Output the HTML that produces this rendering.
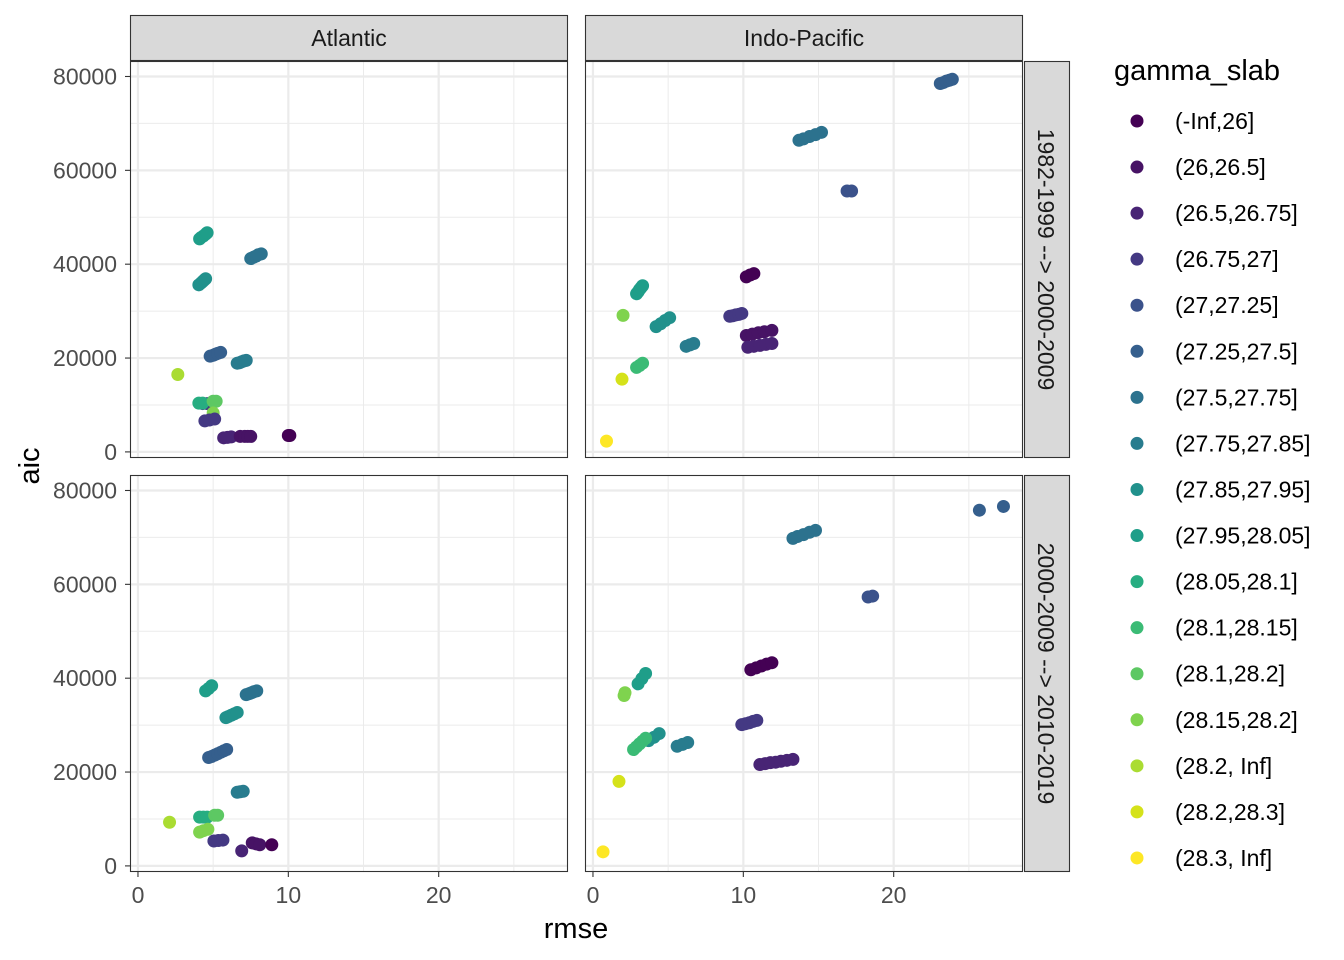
<!DOCTYPE html>
<html><head><meta charset="utf-8"><style>
html,body{margin:0;padding:0;background:#fff;}
svg{display:block;font-family:"Liberation Sans",sans-serif;}
</style></head><body>
<svg id="chart" width="1344" height="960" viewBox="0 0 1344 960"></svg>
<script>
const levels = ["(-Inf,26]","(26,26.5]","(26.5,26.75]","(26.75,27]","(27,27.25]","(27.25,27.5]","(27.5,27.75]","(27.75,27.85]","(27.85,27.95]","(27.95,28.05]","(28.05,28.1]","(28.1,28.15]","(28.1,28.2]","(28.15,28.2]","(28.2, Inf]","(28.2,28.3]","(28.3, Inf]"];
const colors = ["#440154","#471365","#482475","#443983","#3B528B","#355F8D","#2C728E","#287C8E","#21918C","#1F9E89","#27AD81","#3BBB75","#5DC863","#7FD34E","#AADC32","#D5E21A","#FDE725"];
const colTitles = ["Atlantic","Indo-Pacific"];
const rowTitles = ["1982-1999 --> 2000-2009","2000-2009 --> 2010-2019"];
const xTicks = [0,10,20];
const yTicks = [0,20000,40000,60000,80000];

// Atlantic, 1982-1999 --> 2000-2009
const tlRmse = [4.1,4.2,4.35,4.5,4.6, 7.5,7.7,7.85,8.0,8.2, 4.05,4.2,4.3,4.4,4.5, 4.8,5.0,5.15,5.3,5.5, 6.6,6.75,6.9,7.05,7.2, 2.65, 4.3,4.6, 4.05,4.3, 5.0,5.2, 5.0, 4.45,4.75,5.1, 5.7,5.95,6.2, 6.8,7.1,7.3,7.5, 10.0,10.1];
const tlAic  = [45400,45700,46000,46400,46700, 41200,41500,41700,42000,42200, 35600,36000,36300,36600,36900, 20400,20600,20800,21000,21200, 18900,19000,19200,19400,19500, 16500, 10300,10300, 10400,10400, 10800,10800, 8300, 6600,6800,7000, 3000,3100,3200, 3300,3300,3300,3300, 3500,3500];
const tlLvl  = [9,9,9,9,9, 6,6,6,6,6, 8,8,8,8,8, 5,5,5,5,5, 7,7,7,7,7, 14, 3,3, 10,10, 12,12, 13, 3,3,3, 2,2,2, 1,1,1,1, 0,0];
// Indo-Pacific, 1982-1999 --> 2000-2009
const trRmse = [23.1,23.3,23.5,23.7,23.9, 13.7,14.0,14.4,14.8,15.2, 16.9,17.2, 10.2,10.45,10.7, 2.9,3.0,3.1,3.2,3.3, 2.0, 4.2,4.5,4.8,5.1, 9.1,9.3,9.5,9.7,9.9, 10.2,10.6,11.0,11.4,11.9, 10.3,10.7,11.1,11.5,11.9, 6.2,6.45,6.7, 2.9,3.1,3.3, 1.93, 0.9];
const trAic  = [78500,78700,79000,79200,79400, 66400,66700,67200,67600,68100, 55600,55600, 37300,37700,38000, 33700,34100,34600,35000,35400, 29100, 26700,27300,28000,28600, 28900,29000,29200,29300,29500, 24800,25100,25400,25600,25900, 22300,22500,22700,22900,23100, 22500,22800,23100, 18000,18400,18900, 15500, 2300];
const trLvl  = [5,5,5,5,5, 6,6,6,6,6, 4,4, 0,0,0, 9,9,9,9,9, 13, 8,8,8,8, 3,3,3,3,3, 1,1,1,1,1, 2,2,2,2,2, 7,7,7, 11,11,11, 15, 16];
// Atlantic, 2000-2009 --> 2010-2019
const blRmse = [4.5,4.7,4.9, 7.2,7.4,7.55,7.7,7.9, 5.85,6.0,6.2,6.4,6.6, 4.7,4.9,5.1,5.3,5.5,5.7,5.9, 6.6,6.8,7.0, 2.1, 4.1,4.35,4.6, 5.1,5.3, 4.1,4.35,4.65, 5.05,5.35,5.65, 6.9, 7.6,7.85,8.1, 8.9];
const blAic  = [37300,37800,38400, 36500,36700,36900,37100,37300, 31600,31800,32100,32400,32700, 23100,23300,23600,23900,24200,24500,24800, 15700,15800,15900, 9300, 10400,10400,10400, 10800,10800, 7200,7500,7800, 5300,5400,5500, 3200, 4900,4700,4500, 4500];
const blLvl  = [9,9,9, 6,6,6,6,6, 8,8,8,8,8, 5,5,5,5,5,5,5, 7,7,7, 14, 10,10,10, 12,12, 13,13,13, 3,3,3, 2, 1,1,1, 0];
// Indo-Pacific, 2000-2009 --> 2010-2019
const brRmse = [25.7, 27.3, 13.3,13.6,14.0,14.4,14.8, 18.3,18.6, 10.5,10.85,11.2,11.55,11.9, 3.0,3.25,3.5, 2.07,2.13, 9.9,10.15,10.4,10.65,10.9, 3.7,4.05,4.4, 2.7,2.9,3.1,3.3,3.5, 5.6,5.95,6.3, 11.1,11.45,11.8,12.15,12.5,12.9,13.3, 1.73, 0.67];
const brAic  = [75800, 76600, 69800,70200,70600,71100,71500, 57300,57500, 41800,42200,42600,43000,43300, 38800,39900,41000, 36300,36900, 30100,30300,30500,30800,31000, 26700,27400,28200, 24800,25400,26000,26600,27200, 25500,25900,26300, 21600,21800,22000,22100,22300,22500,22700, 18000, 3000];
const brLvl  = [5, 5, 6,6,6,6,6, 4,4, 0,0,0,0,0, 9,9,9, 13,13, 3,3,3,3,3, 8,8,8, 11,11,11,11,11, 7,7,7, 2,2,2,2,2,2,2, 15, 16];

const NS="http://www.w3.org/2000/svg";
const svg=document.getElementById('chart');
function mk(tag,attrs,parent){const e=document.createElementNS(NS,tag);for(const k in attrs)e.setAttribute(k,attrs[k]);(parent||svg).appendChild(e);return e;}

const colX=[130,585], panW=438;
const rowY=[61,475], panH=397;
const xMin=-0.53, xMax=28.6, yMin=-1300, yMax=83300;
function sx(c,v){return colX[c]+(v-xMin)/(xMax-xMin)*panW;}
function sy(r,v){return rowY[r]+panH-(v-yMin)/(yMax-yMin)*panH;}

const panels=[[0,0,tlRmse,tlAic,tlLvl,"panel-atlantic-early"],[1,0,trRmse,trAic,trLvl,"panel-indopacific-early"],[0,1,blRmse,blAic,blLvl,"panel-atlantic-late"],[1,1,brRmse,brAic,brLvl,"panel-indopacific-late"]];
panels.forEach(p=>{
  const [c,r,xs,ys,ls,name]=p;
  const g=mk('g',{});
  
  
  mk('rect',{x:colX[c],y:rowY[r],width:panW,height:panH,fill:'#fff'},g);
  for(let v=5;v<30;v+=10){const x=sx(c,v);mk('line',{x1:x,x2:x,y1:rowY[r],y2:rowY[r]+panH,stroke:'#EBEBEB','stroke-width':1},g);}
  for(let v=10000;v<83000;v+=20000){const y=sy(r,v);mk('line',{x1:colX[c],x2:colX[c]+panW,y1:y,y2:y,stroke:'#EBEBEB','stroke-width':1},g);}
  xTicks.forEach(v=>{const x=sx(c,v);mk('line',{x1:x,x2:x,y1:rowY[r],y2:rowY[r]+panH,stroke:'#EBEBEB','stroke-width':2.2},g);});
  yTicks.forEach(v=>{const y=sy(r,v);mk('line',{x1:colX[c],x2:colX[c]+panW,y1:y,y2:y,stroke:'#EBEBEB','stroke-width':2.2},g);});
  for(let i=0;i<xs.length;i++){
    const pt=mk('circle',{cx:sx(c,xs[i]),cy:sy(r,ys[i]),r:6.5,fill:colors[ls[i]]},g);
    
    
  }
  mk('rect',{x:colX[c]+0.5,y:rowY[r]+0.5,width:panW-1,height:panH-1,fill:'none',stroke:'#333','stroke-width':1.1},g);
});
colTitles.forEach((t,c)=>{
  const g=mk('g',{});
  
  
  mk('rect',{x:colX[c]+0.5,y:15.5,width:panW-1,height:45,fill:'#D9D9D9',stroke:'#333','stroke-width':1.1},g);
  const tx=mk('text',{x:colX[c]+panW/2,y:46,'text-anchor':'middle','font-size':23,fill:'#1A1A1A'},g);tx.textContent=t;
});
rowTitles.forEach((t,r)=>{
  const g=mk('g',{});
  
  
  mk('rect',{x:1024.5,y:rowY[r]+0.5,width:45,height:panH-1,fill:'#D9D9D9',stroke:'#333','stroke-width':1.1},g);
  const cy=rowY[r]+panH/2;
  const tx=mk('text',{x:1046,y:cy,'text-anchor':'middle','font-size':23,fill:'#1A1A1A','dominant-baseline':'central',transform:`rotate(90 1046 ${cy})`},g);tx.textContent=t;
});
[0,1].forEach(r=>{
  yTicks.forEach(v=>{const y=sy(r,v);
    mk('line',{x1:125,x2:130,y1:y,y2:y,stroke:'#333','stroke-width':1.1});
    const t=mk('text',{x:117,y:y+8,'text-anchor':'end','font-size':23,fill:'#4D4D4D'});t.textContent=String(v);
    
    
  });
});
[0,1].forEach(c=>{
  xTicks.forEach(v=>{const x=sx(c,v);
    mk('line',{x1:x,x2:x,y1:872,y2:877,stroke:'#333','stroke-width':1.1});
    const t=mk('text',{x:x,y:903,'text-anchor':'middle','font-size':23,fill:'#4D4D4D'});t.textContent=String(v);
    
    
  });
});
const xt=mk('text',{x:576,y:938,'text-anchor':'middle','font-size':29,fill:'#000'});xt.textContent='rmse';


const yt=mk('text',{x:39,y:466,'text-anchor':'middle','font-size':29,fill:'#000',transform:'rotate(-90 39 466)'});yt.textContent='aic';


const lg=mk('g',{});


const lt=mk('text',{x:1114,y:80,'font-size':29,fill:'#000'},lg);lt.textContent='gamma_slab';
levels.forEach((l,i)=>{
  const y=121+i*46.06;
  const e=mk('g',{},lg);
  
  
  mk('circle',{cx:1137,cy:y,r:6.5,fill:colors[i]},e);
  const t=mk('text',{x:1175,y:y+8,'font-size':23,fill:'#000'},e);t.textContent=l;
});
</script>
</body></html>
